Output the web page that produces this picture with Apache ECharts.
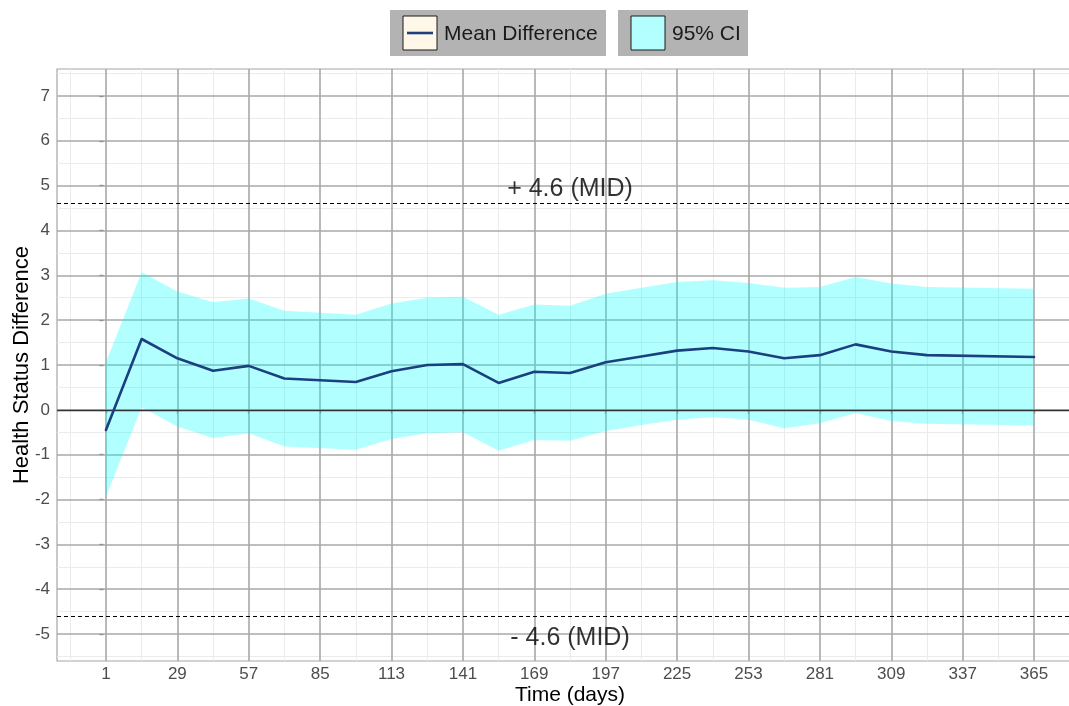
<!DOCTYPE html>
<html>
<head>
<meta charset="utf-8">
<script src="https://cdn.jsdelivr.net/npm/echarts@6/dist/echarts.min.js"></script>
<style>html,body{margin:0;padding:0;background:#fff}#c{width:1069px;height:706px}</style>
</head>
<body>
<div id="c"></div>
<script>
// ---- data ----
const days  = [1, 15, 29, 43, 57, 71, 99, 113, 127, 141, 155, 169, 183, 197, 211, 225, 239, 253, 267, 281, 295, 309, 323, 365];
const meanDiff = [-0.45, 1.58, 1.15, 0.87, 0.98, 0.70, 0.62, 0.86, 1.00, 1.02, 0.60, 0.85, 0.82, 1.06, 1.19, 1.32, 1.38, 1.30, 1.15, 1.22, 1.46, 1.30, 1.22, 1.18];
const ciUpper  = [1.06, 3.07, 2.64, 2.40, 2.48, 2.21, 2.12, 2.37, 2.50, 2.52, 2.12, 2.35, 2.32, 2.59, 2.72, 2.85, 2.89, 2.83, 2.72, 2.74, 2.96, 2.82, 2.74, 2.70];
const ciLower  = [-1.94, 0.06, -0.37, -0.63, -0.52, -0.82, -0.89, -0.65, -0.52, -0.50, -0.91, -0.67, -0.69, -0.47, -0.34, -0.22, -0.16, -0.22, -0.41, -0.30, -0.07, -0.25, -0.31, -0.35];
const xTicks = [1, 29, 57, 85, 113, 141, 169, 197, 225, 253, 281, 309, 337, 365];
const xMinorTicks = [-13, 15, 43, 71, 99, 127, 155, 183, 211, 239, 267, 295, 323, 351, 379];
const yTicks = [-5, -4, -3, -2, -1, 0, 1, 2, 3, 4, 5, 6, 7];
const yMinorTicks = [-5.5, -4.5, -3.5, -2.5, -1.5, -0.5, 0.5, 1.5, 2.5, 3.5, 4.5, 5.5, 6.5, 7.5];
const midLines = [4.6, -4.6];
const annX = [183, 183];
const annY = [4.93, -5.1];
const annText = ['+ 4.6 (MID)', '- 4.6 (MID)'];

const meanData = days.map((d, i) => [d, meanDiff[i]]);
const bandData = days.map((d, i) => [d, ciLower[i], ciUpper[i]]);

const chart = echarts.init(document.getElementById('c'), null, {renderer: 'canvas'});
const FONT = '"Liberation Sans", Arial, sans-serif';

const minorColor = '#EBEBEB', majorColor = '#A8A8A8';
const gridMarks = [];
xMinorTicks.forEach(v => gridMarks.push({xAxis: v, lineStyle: {color: minorColor, width: 1, type: 'solid'}}));
yMinorTicks.forEach(v => gridMarks.push({yAxis: v, lineStyle: {color: minorColor, width: 1, type: 'solid'}}));
xTicks.forEach(v => gridMarks.push({xAxis: v, lineStyle: {color: majorColor, width: 1.6, type: 'solid'}}));
yTicks.forEach(v => gridMarks.push({yAxis: v, lineStyle: {color: majorColor, width: 1.6, type: 'solid'}}));

const refMarks = [{yAxis: 0, lineStyle: {color: '#333333', width: 1.3, type: 'solid'}}];
midLines.forEach(v => refMarks.push({yAxis: v, lineStyle: {color: '#000000', width: 1.2, type: [4, 3]}}));

function legendBox(x, w, keyType, label) {
  const children = [
    {type: 'rect', shape: {x: 0, y: 0, width: w, height: 46}, style: {fill: '#B3B3B3'}},
    {type: 'rect', shape: {x: 13, y: 6, width: 34, height: 34},
     style: {fill: keyType === 'line' ? '#FFF8E8' : '#B3FFFF', stroke: '#1a1a1a', lineWidth: 1}}
  ];
  if (keyType === 'line') {
    children.push({type: 'line', shape: {x1: 17, y1: 23, x2: 43, y2: 23}, style: {stroke: '#1B3F7F', lineWidth: 2.6}});
  }
  children.push({type: 'text', x: 54, y: 24, style: {text: label, font: '21px ' + FONT, fill: '#1a1a1a', verticalAlign: 'middle'}});
  return {type: 'group', x: x, y: 10, children: children};
}

chart.setOption({
  animation: false,
  backgroundColor: '#ffffff',
  grid: {left: 57, right: -14, top: 69, bottom: 45, outerBoundsMode: 'none', containLabel: false,
         show: true, borderColor: '#A6A6A6', borderWidth: 1.2, backgroundColor: 'transparent'},
  xAxis: {
    type: 'value', min: -18.2, max: 384.2,
    name: 'Time (days)', nameLocation: 'middle', nameGap: 24, nameMoveOverlap: false,
    nameTextStyle: {fontFamily: FONT, fontSize: 21, color: '#000'},
    axisLine: {show: false},
    axisTick: {show: true, length: 4, customValues: xTicks, lineStyle: {color: '#444', width: 1.2}},
    axisLabel: {customValues: xTicks, fontFamily: FONT, fontSize: 17, color: '#4D4D4D', margin: 5},
    splitLine: {show: false}
  },
  yAxis: {
    type: 'value', min: -5.6, max: 7.6,
    name: 'Health Status Difference', nameLocation: 'middle', nameGap: 24, nameMoveOverlap: false,
    nameTextStyle: {fontFamily: FONT, fontSize: 22, color: '#000'},
    axisLine: {show: false},
    axisTick: {show: true, length: 4, customValues: yTicks, lineStyle: {color: '#444', width: 1.2}},
    axisLabel: {customValues: yTicks, fontFamily: FONT, fontSize: 17, color: '#4D4D4D', margin: 7},
    splitLine: {show: false}
  },
  graphic: [
    legendBox(390, 216, 'line', 'Mean Difference'),
    legendBox(618, 130, 'rect', '95% CI')
  ],
  series: [
    {
      name: 'grid', type: 'line', data: [], z: 1, silent: true,
      symbol: 'none', showSymbol: false,
      markLine: {silent: true, z: 1, symbol: ['none', 'none'], label: {show: false}, animation: false, data: gridMarks}
    },
    {
      name: '95% CI', type: 'custom', z: 2, silent: true,
      data: bandData,
      renderItem: function (params, api) {
        if (params.dataIndex !== 0) return null;
        const pts = [];
        for (let i = 0; i < bandData.length; i++) pts.push(api.coord([bandData[i][0], bandData[i][2]]));
        for (let i = bandData.length - 1; i >= 0; i--) pts.push(api.coord([bandData[i][0], bandData[i][1]]));
        return {type: 'polygon', shape: {points: pts}, style: {fill: 'rgba(0,255,255,0.3)'}};
      },
      encode: {x: 0, y: [1, 2]}
    },
    {
      name: 'ref', type: 'line', data: [], z: 3, silent: true,
      symbol: 'none', showSymbol: false,
      markLine: {silent: true, z: 3, symbol: ['none', 'none'], label: {show: false}, animation: false, data: refMarks}
    },
    {
      name: 'Mean Difference', type: 'line', data: meanData, z: 4,
      showSymbol: false, symbol: 'none',
      lineStyle: {color: '#1B3F7F', width: 2.6, join: 'round', cap: 'round'}
    },
    {
      name: 'annotations', type: 'scatter', z: 5, silent: true, symbolSize: 0,
      data: annX.map((x, i) => ({value: [x, annY[i]], label: {formatter: annText[i]}})),
      label: {show: true, position: 'inside', fontFamily: FONT, fontSize: 25, color: '#000'}
    }
  ]
});
</script>
</body>
</html>
